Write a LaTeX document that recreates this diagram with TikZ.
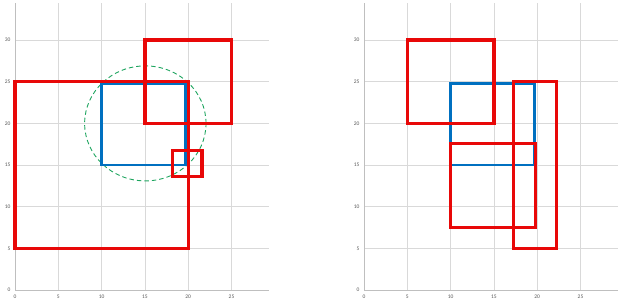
\documentclass[tikz,border=0pt]{standalone}
\usepackage{fontspec}
\setmainfont{Carlito}
\usetikzlibrary{positioning}
\definecolor{boxred}{RGB}{232,8,8}
\definecolor{boxblue}{RGB}{0,112,192}
\definecolor{ringgreen}{RGB}{30,165,95}
\definecolor{gridgray}{RGB}{217,217,217}
\definecolor{axisgray}{RGB}{191,191,191}
\definecolor{ticktext}{RGB}{89,89,89}

\begin{document}
\begin{tikzpicture}[x=1pt, y=1pt,
    gridline/.style={draw=gridgray, line width=0.7pt},
    axisline/.style={draw=axisgray, line width=0.9pt},
    ticklabel/.style={font=\fontsize{5.5}{5.5}\selectfont, text=ticktext, inner sep=0.5pt},
    redbox/.style={draw=boxred, line width=3.2pt},
    bluebox/.style={draw=boxblue, line width=2.3pt},
    ring/.style={draw=ringgreen, line width=0.9pt, dash pattern=on 4.5pt off 3pt}]
  \useasboundingbox (0,0) rectangle (618,302);
  % axes, grid and tick labels of both charts
  \foreach \ox/\nm in {15/L, 364/R} {
    \begin{scope}[shift={(\ox,12)}, x=8.66pt, y=8.33pt]
      \foreach \v in {5,10,...,25}
        \draw[gridline] (\v,0) -- (\v,34.4);
      \foreach \v in {5,10,...,30}
        \draw[gridline] (0,\v) -- (29.3,\v);
      \draw[axisline] (0,0) -- (29.3,0);
      \draw[axisline] (0,0) -- (0,34.4);
      \foreach \v in {0,5,...,30}
        \node[ticklabel, anchor=east] (\nm y\v) at (-0.45,\v) {\v};
      \foreach \v in {0,5,...,25}
        \node[ticklabel, anchor=north] (\nm x\v) at (\v,-0.55) {\v};
    \end{scope}
  }
  % left chart
  \begin{scope}[shift={(15,12)}, x=8.66pt, y=8.33pt]
    \draw[ring] (15.05,20) ellipse [x radius=60.7pt, y radius=57.5pt];
    \draw[bluebox] (10,15) rectangle (19.7,24.8);
    \draw[redbox] (0,5) rectangle (20,25);
    \draw[redbox] (15,20) rectangle (25,30);
    \draw[redbox] (18.2,13.6) rectangle (21.6,16.7);
  \end{scope}
  % right chart
  \begin{scope}[shift={(364,12)}, x=8.66pt, y=8.33pt]
    \draw[bluebox] (10,15) rectangle (19.7,24.8);
    \draw[redbox] (5,20) rectangle (15,30);
    \draw[redbox] (10,7.5) rectangle (19.8,17.6);
    \draw[redbox] (17.3,5) rectangle (22.2,25);
  \end{scope}
\end{tikzpicture}
\end{document}
